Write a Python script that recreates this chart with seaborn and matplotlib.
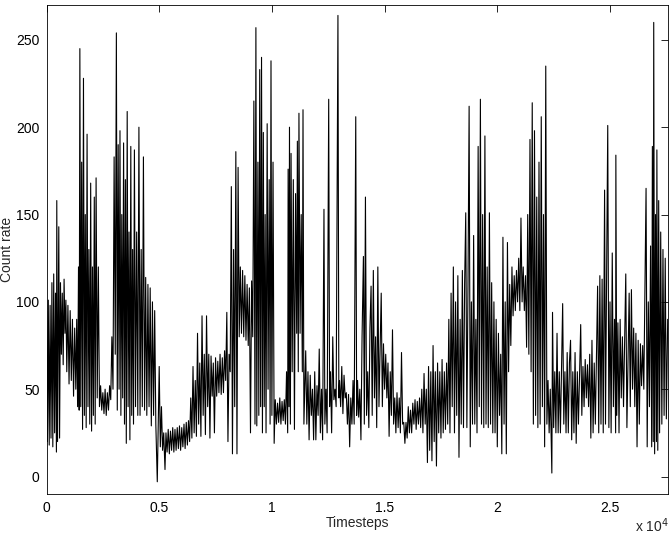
import numpy as np
import pandas as pd
import matplotlib
matplotlib.use("Agg")
import matplotlib.pyplot as plt
import seaborn as sns

# ---------------- data (peaks / troughs) ----------------
timesteps = [
    0, 40, 80, 120, 160, 200, 240, 280, 320, 360, 400, 440, 456, 490, 545, 580, 620, 660, 700, 740,
    780, 820, 860, 900, 950, 1000, 1050, 1100, 1150, 1200, 1250, 1300, 1340, 1380, 1420, 1450, 1480, 1520, 1560, 1600,
    1640, 1680, 1720, 1760, 1800, 1840, 1880, 1920, 1960, 2000, 2040, 2080, 2120, 2160, 2200, 2250, 2300, 2350, 2400, 2450,
    2500, 2550, 2600, 2650, 2700, 2750, 2800, 2850, 2900, 2950, 3000, 3050, 3100, 3140, 3180, 3220, 3260, 3300, 3340, 3380,
    3420, 3460, 3500, 3540, 3580, 3620, 3660, 3700, 3740, 3780, 3820, 3860, 3900, 3950, 4000, 4050, 4100, 4150, 4200, 4250,
    4300, 4350, 4400, 4450, 4500, 4550, 4600, 4650, 4700, 4750, 4800, 4850, 4915, 4950, 5000, 5050, 5100, 5150, 5200, 5257,
    5300, 5350, 5400, 5450, 5500, 5550, 5600, 5650, 5700, 5750, 5800, 5850, 5900, 5950, 6000, 6050, 6100, 6150, 6200, 6250,
    6300, 6350, 6400, 6450, 6500, 6550, 6600, 6650, 6700, 6750, 6800, 6850, 6900, 6950, 7000, 7050, 7100, 7150, 7200, 7250,
    7300, 7350, 7400, 7450, 7500, 7550, 7600, 7650, 7700, 7750, 7800, 7850, 7900, 7950, 8000, 8050, 8100, 8150, 8200, 8250,
    8300, 8350, 8400, 8450, 8500, 8550, 8600, 8650, 8700, 8750, 8800, 8850, 8900, 8950, 9000, 9050, 9100, 9150, 9200, 9250,
    9290, 9330, 9380, 9420, 9460, 9500, 9540, 9580, 9620, 9660, 9700, 9740, 9790, 9830, 9880, 9920, 9960, 10000, 10050, 10100,
    10150, 10200, 10250, 10300, 10350, 10400, 10450, 10500, 10550, 10600, 10650, 10700, 10720, 10760, 10780, 10820, 10850, 10900, 10950, 11000,
    11050, 11100, 11130, 11170, 11200, 11250, 11300, 11350, 11380, 11420, 11500, 11550, 11600, 11650, 11700, 11750, 11800, 11850, 11900, 11950,
    12000, 12050, 12100, 12150, 12200, 12250, 12310, 12350, 12400, 12450, 12520, 12560, 12600, 12650, 12700, 12750, 12800, 12850, 12930, 12970,
    13000, 13050, 13100, 13150, 13200, 13250, 13300, 13350, 13400, 13450, 13500, 13550, 13600, 13650, 13720, 13760, 13800, 13850, 13900, 13950,
    14000, 14060, 14100, 14150, 14200, 14250, 14300, 14350, 14400, 14450, 14500, 14550, 14600, 14650, 14700, 14750, 14850, 14900, 14950, 15000,
    15050, 15100, 15150, 15200, 15250, 15300, 15350, 15400, 15450, 15500, 15550, 15600, 15650, 15700, 15750, 15800, 15850, 15900, 15950, 16000,
    16050, 16100, 16150, 16200, 16250, 16300, 16350, 16400, 16450, 16500, 16550, 16600, 16650, 16700, 16750, 16800, 16850, 16900, 16950, 17000,
    17050, 17100, 17150, 17200, 17250, 17300, 17350, 17400, 17450, 17500, 17550, 17600, 17650, 17700, 17750, 17800, 17850, 17900, 17950, 18000,
    18050, 18100, 18150, 18200, 18250, 18300, 18350, 18400, 18450, 18500, 18550, 18600, 18650, 18700, 18750, 18800, 18850, 18900, 18950, 19000,
    19050, 19100, 19150, 19200, 19250, 19300, 19350, 19400, 19450, 19500, 19550, 19600, 19650, 19700, 19750, 19800, 19850, 19900, 19950, 20000,
    20050, 20100, 20150, 20200, 20250, 20300, 20350, 20400, 20450, 20500, 20550, 20600, 20650, 20700, 20750, 20800, 20850, 20900, 20950, 21000,
    21050, 21100, 21150, 21200, 21250, 21300, 21350, 21400, 21450, 21500, 21550, 21600, 21650, 21700, 21750, 21800, 21850, 21900, 21950, 22000,
    22050, 22100, 22150, 22200, 22250, 22300, 22350, 22420, 22450, 22500, 22550, 22600, 22650, 22700, 22750, 22800, 22900, 22950, 23000, 23050,
    23100, 23150, 23200, 23250, 23300, 23350, 23400, 23450, 23500, 23550, 23600, 23700, 23750, 23800, 23850, 23900, 23950, 24000, 24050, 24100,
    24150, 24200, 24250, 24300, 24350, 24450, 24500, 24550, 24600, 24650, 24700, 24760, 24800, 24900, 24950, 25000, 25050, 25100, 25150, 25200,
    25250, 25260, 25300, 25350, 25400, 25450, 25500, 25550, 25600, 25700, 25750, 25850, 25900, 25950, 26000, 26050, 26100, 26150, 26200, 26250,
    26300, 26350, 26400, 26450, 26500, 26600, 26650, 26700, 26750, 26800, 26850, 26880, 26920, 26940, 26980, 27020, 27060, 27080, 27120, 27160,
    27200, 27250, 27300, 27350, 27400, 27450, 27500, 27560,
]

count_rate = [
    95, 20, 101, 18, 98, 22, 111, 17, 116, 25, 105, 14, 158, 20, 143, 22, 111, 70, 105, 64,
    113, 82, 101, 60, 98, 53, 95, 55, 90, 46, 85, 50, 90, 40, 120, 38, 245, 40, 180, 27,
    228, 35, 150, 28, 196, 40, 130, 30, 168, 26, 120, 35, 160, 30, 171, 45, 120, 40, 52, 38,
    48, 36, 50, 35, 48, 38, 52, 44, 80, 50, 183, 70, 254, 38, 190, 50, 198, 35, 150, 45,
    191, 30, 170, 19, 209, 40, 140, 21, 189, 35, 130, 30, 187, 40, 140, 35, 200, 35, 130, 40,
    183, 38, 114, 35, 110, 40, 108, 29, 100, 35, 95, 30, -3, 25, 63, 17, 40, 15, 25, 4,
    25, 14, 27, 13, 26, 15, 28, 14, 27, 15, 28, 16, 29, 15, 28, 17, 30, 16, 31, 18,
    32, 20, 45, 22, 63, 25, 55, 23, 82, 30, 65, 23, 92, 35, 70, 24, 92, 40, 70, 22,
    69, 46, 65, 25, 68, 46, 66, 48, 70, 47, 68, 48, 72, 55, 94, 20, 70, 60, 166, 13,
    130, 40, 186, 13, 177, 80, 120, 82, 118, 80, 115, 78, 110, 75, 108, 25, 112, 80, 215, 30,
    257, 29, 180, 35, 233, 40, 240, 25, 197, 40, 150, 25, 202, 50, 170, 30, 238, 35, 180, 19,
    44, 30, 42, 31, 45, 30, 43, 32, 44, 30, 60, 25, 176, 40, 200, 30, 185, 60, 170, 27,
    162, 82, 192, 60, 208, 82, 150, 60, 210, 30, 72, 30, 60, 21, 58, 35, 50, 21, 60, 21,
    52, 35, 73, 25, 50, 21, 153, 30, 50, 25, 216, 40, 60, 25, 80, 44, 50, 40, 264, 45,
    55, 40, 63, 36, 58, 45, 48, 30, 47, 17, 45, 30, 55, 30, 206, 35, 55, 34, 50, 21,
    80, 126, 30, 160, 35, 60, 28, 85, 109, 35, 118, 45, 80, 28, 120, 40, 105, 40, 76, 50,
    70, 45, 65, 23, 60, 35, 84, 30, 45, 25, 48, 28, 45, 25, 71, 30, 31, 19, 31, 22,
    40, 25, 38, 25, 42, 30, 44, 27, 43, 30, 45, 28, 50, 25, 59, 30, 50, 8, 63, 15,
    60, 9, 75, 20, 60, 6, 65, 25, 60, 22, 67, 25, 60, 27, 65, 30, 90, 25, 105, 40,
    120, 25, 100, 35, 115, 11, 90, 30, 118, 28, 110, 151, 28, 110, 212, 17, 100, 30, 138, 30,
    90, 25, 189, 40, 216, 30, 150, 28, 195, 30, 120, 28, 151, 30, 111, 25, 100, 25, 90, 17,
    82, 35, 70, 13, 137, 30, 100, 13, 134, 60, 110, 75, 120, 92, 115, 95, 118, 100, 125, 95,
    148, 100, 120, 95, 115, 74, 150, 70, 193, 60, 214, 30, 198, 35, 160, 28, 180, 30, 206, 40,
    150, 17, 235, 30, 55, 25, 50, 2, 94, 28, 60, 25, 82, 25, 60, 25, 99, 30, 60, 25,
    71, 25, 65, 78, 21, 60, 25, 71, 19, 60, 30, 87, 35, 63, 40, 67, 45, 64, 40, 70,
    22, 78, 25, 65, 30, 109, 25, 115, 30, 113, 25, 164, 30, 201, 28, 100, 25, 128, 40, 90,
    25, 184, 35, 88, 25, 90, 45, 80, 40, 116, 28, 105, 40, 107, 50, 85, 40, 82, 17, 78,
    30, 76, 52, 75, 50, 165, 17, 100, 40, 132, 17, 189, 20, 260, 13, 150, 20, 187, 15, 158,
    25, 140, 30, 130, 35, 125, 33, 90,
]

df = pd.DataFrame({"Timesteps": timesteps, "Count rate": count_rate})

# ---------------- plot ----------------
sns.set_style("white")
plt.rcParams["font.family"] = ["Liberation Sans", "DejaVu Sans"]
plt.rcParams["font.size"] = 10

fig = plt.figure(figsize=(6.72, 5.38), dpi=100)
ax = fig.add_axes([0.0692, 0.0818, 0.9244, 0.909])

sns.lineplot(data=df, x="Timesteps", y="Count rate", estimator=None, sort=False,
             color="black", linewidth=0.8, ax=ax)

ax.set_xlim(0, 27560)
ax.set_ylim(-10, 270)
ax.set_xticks([0, 5000, 10000, 15000, 20000, 25000])
ax.set_xticklabels(["0", "0.5", "1", "1.5", "2", "2.5"])
ax.set_yticks([0, 50, 100, 150, 200, 250])

ax.tick_params(direction="in", length=5, width=0.6, top=True, right=True,
               colors="black", labelsize=10, pad=5)
for sp in ax.spines.values():
    sp.set_visible(True)
    sp.set_color("black")
    sp.set_linewidth(0.6)

ax.set_xlabel("Timesteps", fontsize=10, labelpad=1)
ax.set_ylabel("Count rate", fontsize=10)
ax.yaxis.set_label_coords(-0.052, 0.5)
fig.text(0.995, 0.006, r"x 10$^{4}$", ha="right", va="bottom", fontsize=10)

fig.savefig("out.png", dpi=100)
